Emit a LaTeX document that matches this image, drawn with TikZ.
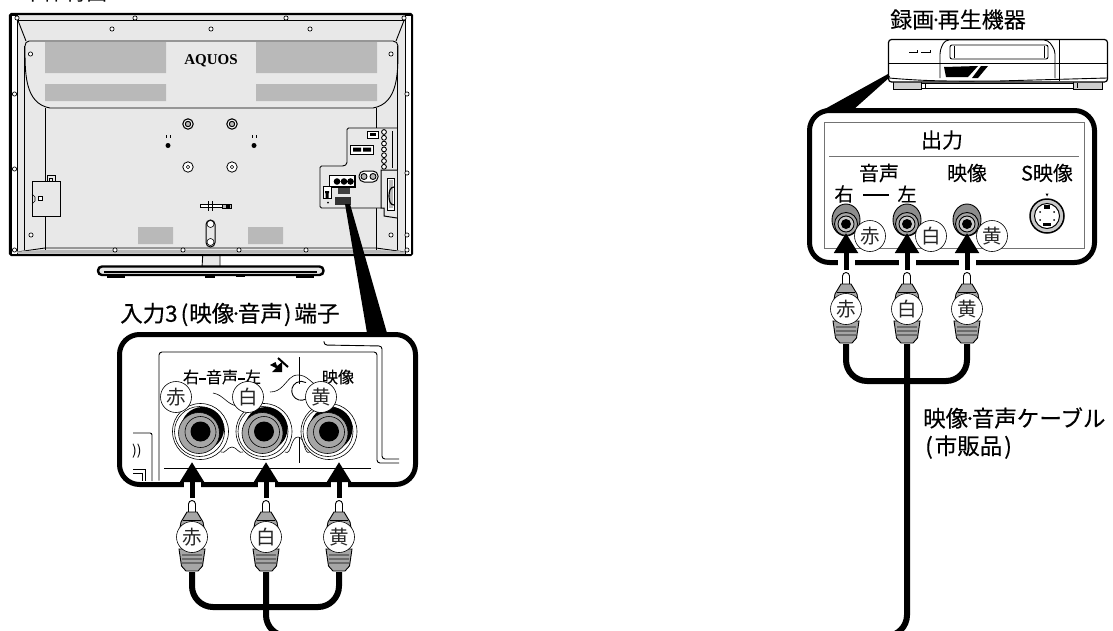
\documentclass[tikz,border=0pt]{standalone}
\usepackage{fontspec}
\setmainfont{Noto Sans CJK JP}
\newfontfamily\jpbold[FakeBold=0.4]{Noto Sans CJK JP}
\newfontfamily\jpmid[FakeBold=0.12]{Noto Sans CJK JP}
\newfontfamily\logofont{Liberation Serif}
\usetikzlibrary{arrows.meta,calc}
\definecolor{tvgray}{HTML}{E8E8E8}
\definecolor{panelgray}{HTML}{B9B9B9}
\definecolor{pluggray}{HTML}{A6A6A6}
\newcommand{\fs}[1]{\fontsize{#1}{#1}\selectfont}
\newcommand{\mdot}{\kern-0.2em·\kern-0.2em}
\tikzset{
  x=1pt,y=-1pt,
  ln/.style={line width=0.9pt,black},
  thin line/.style={line width=0.6pt,black},
  screw/.style={draw=black,fill=white,line width=0.7pt,circle,inner sep=0pt,minimum size=4.2pt},
  block/.style={fill=panelgray,draw=none},
  calloutbox/.style={draw=black,line width=5pt,rounded corners=20pt,fill=white},
  wedge/.style={fill=black,draw=none},
  cable/.style={draw=black,line width=6pt,rounded corners=21pt},
  tagc/.style={circle,draw=black,fill=white,line width=0.6pt,minimum size=31pt,inner sep=0pt,text=black!85,font=\fs{19.5}},
  halo/.style={draw=white,line width=17pt},
  insert/.style={draw=black,line width=5pt,-{Triangle[width=23pt,length=20pt]}},
  portlabel/.style={inner sep=0pt,font=\jpmid\fs{16}},
  caption bold/.style={inner sep=0pt,anchor=west,font=\jpbold\fs{22.5}},
  plain label/.style={inner sep=0pt,font=\jpmid\fs{20}},
}
% #1 name, #2 x, #3 y of tip, #4 tag text
\newcommand{\rcaplug}[4]{
  \begin{scope}[shift={(#2,#3)}]
    \coordinate (#1top) at (0,0);
    \coordinate (#1end) at (0,71);
    \draw[ln,fill=white] (-3.5,12) -- (-3.5,3) arc[start angle=180,end angle=360,radius=3.5] -- (3.5,12);
    \draw[ln,fill=pluggray] (-5,11) -- (5,11) -- (11,21) -- (13,32) -- (-13,32) -- (-11,21) -- cycle;
    \draw[thin line] (-9,19) -- (9,19);
    \draw[ln,fill=pluggray] (-13,48) -- (-10.5,65) -- (-6,70) -- (6,70) -- (10.5,65) -- (13,48) -- cycle;
    \foreach \yy in {54,58,62} \draw[thin line] (-10,\yy) -- (10,\yy+0.01);
    \node[tagc] (#1) at (0,36) {#4};
  \end{scope}
}
% big jack of left callout
\newcommand{\bigjack}[3]{
  \begin{scope}[shift={(#2,#3)}]
    \draw[thin line,fill=white] (0,0) circle[radius=28];
    \draw[thin line] (-1,0) circle[radius=25];
    \fill[black] (2,-3) circle[radius=21.5];
    \draw[thin line,fill=pluggray] (-1.5,1.5) circle[radius=20.5];
    \draw[thin line] (0,0.5) circle[radius=15.5];
    \node[circle,fill=black,minimum size=20pt,inner sep=0pt] (#1) at (0,0) {};
  \end{scope}
}
% small jack of right callout
\newcommand{\smalljack}[3]{
  \begin{scope}[shift={(#2,#3)}]
    \draw[ln,fill=pluggray!85!black] (0,-2) ellipse[x radius=14,y radius=16];
    \draw[ln,fill=pluggray] (0,2) circle[radius=11.5];
    \draw[ln,fill=pluggray!60] (0,2) circle[radius=8];
    \node[circle,fill=black,minimum size=10pt,inner sep=0pt] (#1) at (0,2) {};
  \end{scope}
}
\begin{document}
\begin{tikzpicture}
\useasboundingbox (0,0) rectangle (1113,630);
\clip (0,0) rectangle (1113,630);

% --- title cut by the page edge
\node[inner sep=0pt,font=\fs{21.5}] (title) at (65,-7.5) {本体背面};

% --- TV stand
\draw[ln,fill=tvgray] (203,250) -- (202,268) -- (220,268) -- (220,250);
\draw[line width=2.4pt,fill=tvgray,rounded corners=4pt] (98,266.5) rectangle (323.5,275);
\draw[line width=1.2pt] (104,272) -- (317,272);
\draw[line width=1.6pt] (107,277) -- (125,277) (205,277) -- (215,277) (236,276) -- (245,276) (296,277) -- (314,277);

% --- TV body
\draw[line width=2.2pt,fill=tvgray,rounded corners=1.5pt] (10,14) rectangle (412,255);
\draw[ln,fill=white] (11,15) rectangle (17,254);
\draw[ln,fill=white] (405,15) rectangle (411,254);
\draw[line width=1pt] (17,20) -- (405,20);
\draw[ln] (17,18) -- (26,41) (405,18) -- (396,41);
\draw[ln,fill=tvgray] (29,41) -- (393,41) to[out=0,in=90] (398,46) to[out=-90,in=10] (373,108) -- (50,108) to[out=170,in=-90] (25,46) to[out=90,in=180] (29,41) -- cycle;
\draw[ln] (24,46) -- (24,250) (397,46) -- (397,250) (45,108) -- (45,250) (376,108) -- (376,250);
\draw[ln] (17,252) -- (45,248) -- (376,248) -- (405,252);
\fill[panelgray] (17,251.5) -- (45,250) -- (376,250) -- (405,251.5) -- (405,253) -- (17,253) -- cycle;
\fill[block] (45,42) rectangle (166,73) (256,42) rectangle (377,73) (45,84) rectangle (166,101) (256,84) rectangle (377,101) (138,227) rectangle (173,244) (248,227) rectangle (283,244);
\node[inner sep=0pt,font=\logofont\bfseries\fs{15}] (logo) at (211,60.5) {AQUOS};
\foreach \sx/\sy in {17/18,135/18,286/18,404/18,112/29,211/29,310/29,30.5/54,391/54,14.5/94,14.5/169,407/94,407/173,407/235,407/250,31/235,391/235,14.5/250,115/250,183/250,239/250,306/250}
  \node[screw] at (\sx,\sy) {};
\foreach \sx in {188,232} {
  \draw[line width=1.1pt,fill=white] (\sx,124) circle[radius=5.2];
  \draw[line width=1pt,fill=panelgray] (\sx,124) circle[radius=2.7];
  \draw[line width=0.8pt,fill=white] (\sx,167) circle[radius=5.2];
  \draw[thin line] (\sx,167) circle[radius=1.7];
}
\foreach \sx in {168,254} {
  \fill[black] (\sx,145.5) circle[radius=2.5];
  \draw[thin line] (\sx-2,135) -- (\sx-2,138) (\sx+2,135) -- (\sx+2,138);
}
% left box
\draw[ln] (47,181) -- (47,175) -- (55,175) -- (55,181) (49.5,181) -- (49.5,178) -- (52.5,178) -- (52.5,181);
\draw[ln,fill=tvgray] (32,181.5) rectangle (60,216);
\draw[thin line] (32,194) -- (35,197) -- (35,201) -- (32,204);
\draw[thin line,fill=white] (38,196.5) rectangle (42,200.5);
% bracket and slot
\draw[ln,fill=white] (200,204.5) rectangle (222,207.5);
\draw[ln,fill=panelgray] (222,204) rectangle (231,208.5);
\fill[black] (226,203.5) rectangle (230,209);
\draw[thin line] (208,201) -- (208,211) (212,201) -- (212,211);
\draw[line width=1pt,fill=tvgray,rounded corners=4.5pt] (206,220) rectangle (215,247);
\draw[thin line,fill=white] (210.5,224) circle[radius=3.5];
\draw[thin line,fill=white] (210.5,242) circle[radius=3.5];
% terminal panel
\draw[ln,fill=tvgray,rounded corners=1.5pt] (397,128) -- (347,128) -- (347,164) -- (344,166) -- (320,166) -- (320,208) -- (381,208);
\draw[line width=1pt,fill=white] (367,131) rectangle (378,138);
\fill[black] (370,133) rectangle (375.5,136);
\draw[line width=1pt,fill=white] (350,145) rectangle (373,154);
\fill[black] (353,147.5) rectangle (361,151.5) (363,147.5) rectangle (371,151.5);
\foreach \k in {0,...,6} \draw[line width=0.9pt,fill=white] (384,132+\k*5.8) circle[radius=2.4];
\fill[black] (391.5,131) rectangle (393,168);
\draw[line width=1pt,fill=white,rounded corners=5pt] (359,171) rectangle (378,182);
\draw[ln,fill=panelgray] (364,176.5) circle[radius=3];
\draw[ln,fill=panelgray] (373,176.5) circle[radius=3];
\draw[line width=1.8pt,fill=white] (329.5,175.5) rectangle (355,187);
\fill[black] (337,181.5) circle[radius=3.3] (344,181.5) circle[radius=3.3] (350.5,181.5) circle[radius=3.3];
\fill[black!75] (338,188) rectangle (350,194);
\fill[black!80] (335,196.5) rectangle (351,204.5);
\draw[ln,fill=white] (323,186.5) rectangle (331,198);
\fill[black] (325,191) rectangle (329,193) (325.5,193) rectangle (328.5,198);
\fill[black] (328,202.5) circle[radius=1];
% side door
\draw[line width=1pt,fill=tvgray] (397,170) -- (381,170) -- (381,208) -- (384,208) -- (384,216) -- (397,218);
\draw[line width=1pt,fill=white] (387.5,178) rectangle (394.5,210);
\fill[panelgray] (389,180) rectangle (393,208);
\draw[line width=1.2pt] (394,187) to[out=180,in=90] (389,196) to[out=-90,in=180] (394,205);

% --- pointer to left callout
\fill[wedge] (345,204) -- (350,204) -- (387,333) -- (367,333) -- cycle;

% --- left callout
\node[inner sep=0pt,anchor=west,font=\jpbold\fs{22.5}] (leftcap) at (120,314.5) {入力3\kern3pt(\kern1pt映像\mdot 音声\kern1pt)\kern3pt端子};
\draw[calloutbox] (119.5,334.5) rectangle (415.5,484.5);
\draw[ln,rounded corners=3pt] (159,480.5) -- (159,352) -- (377,352) -- (377,463) -- (399,463);
\draw[ln,rounded corners=3pt] (324,341) -- (324,345) -- (382,346) -- (382,459) -- (399,459);
\draw[line width=1pt] (299,357) -- (299,384) (299,437) -- (299,463);
\draw[ln,rounded corners=2pt] (133,433) -- (152,433) -- (152,481);
\draw[ln] (133,469.5) -- (145,469.5) -- (145,481) (133,473) -- (142,473) -- (142,481);
\node[inner sep=0pt,font=\fs{14},anchor=west] (rings) at (132,451) {))};
% plate
\draw[thin line] (213,393) to[out=-10,in=170] (237,406);
\draw[thin line] (270,392) to[out=0,in=225] (283,386) to[out=45,in=180] (298,375) to[out=0,in=160] (320,387);
\draw[thin line] (221,452) to[out=-30,in=180] (232,447) to[out=0,in=210] (243,452);
\draw[thin line] (285,452) to[out=-30,in=180] (298,437) to[out=0,in=210] (310,452);
\draw[ln] (306,399) arc[start angle=60,end angle=300,radius=9.5];
\bigjack{jackA}{200.5}{431.5}
\bigjack{jackB}{264}{431.5}
\bigjack{jackC}{329}{431.5}
\node[portlabel] (lblLR) at (222,377) {右\raisebox{3.5pt}{\rule{7pt}{2pt}}音声\raisebox{3.5pt}{\rule{7pt}{2pt}}左};
\node[portlabel] (lblV) at (338,377) {映像};
% push-in mark
\fill[black] (270,365) -- (275.5,362) -- (277,366) -- (282,362) -- (282,372) -- (272,372) -- (276,368) -- cycle;
\draw[line width=2pt] (278,358) -- (288,367);
\node[tagc] (tagA) at (176,397) {赤};
\node[tagc] (tagB) at (248,397) {白};
\node[tagc] (tagC) at (321,397) {黄};
\draw[line width=1.4pt] (164,468.5) -- (371,468.5);

\rcaplug{plugA}{192}{501}{赤}
\rcaplug{plugB}{266}{501}{白}
\rcaplug{plugC}{339}{501}{黄}
\coordinate (tipA) at (192,462); \coordinate (tipB) at (266,462); \coordinate (tipC) at (339,462);
\foreach \p in {A,B,C} {
  \draw[halo] ($(tip\p)+(0,19)$) -- ($(tip\p)+(0,36)$);
  \draw[insert] ($(plug\p top)+(0,-3.5)$) -- (tip\p);
}

% --- VCR
\node[plain label,font=\jpmid\fs{22}] (vcrcap) at (958,19.5) {録画\mdot 再生機器};
\draw[ln,fill=panelgray!70] (893,80) rectangle (921,89.5);
\draw[ln,fill=panelgray!70] (1073,80) rectangle (1102,89.5);
\draw[ln,fill=white] (921,83) rectangle (1073,88.5);
\draw[ln] (925,83) -- (925,88) (1077,83) -- (1077,88);
\draw[line width=1.2pt,fill=white,rounded corners=3pt] (888.5,39.5) rectangle (1107.5,82);
\draw[ln] (889,63) -- (1107,63) (1059,40) -- (1059,81);
\draw[ln] (889,78) to[out=-5,in=180] (998,81) -- (1107,78);
\draw[ln,rounded corners=4pt,fill=white] (940,78) -- (940,50) -- (945,40) -- (1048,40) -- (1055,50) -- (1055,78);
\draw[ln,fill=white] (940,63) -- (1055,63);
\draw[ln,rounded corners=2pt] (950,45) rectangle (1048,59);
\draw[thin line] (954,46) -- (954,58) (1044,46) -- (1044,58);
\draw[ln] (909,52) -- (917,52) -- (917,50) (921,52) -- (930,52) -- (930,50);
\fill[black] (944,67) -- (978,66) -- (968,77) -- (946,77) -- cycle;
\fill[black] (981,66) -- (988,66) -- (978,78) -- (972,78) -- cycle;
\fill[wedge] (888,74) -- (890,77) -- (853,110) -- (823,110) -- cycle;

% --- right callout
\draw[calloutbox] (809.5,110.5) rectangle (1094.5,262.5);
\draw[line width=1pt,draw=black!55] (824,122.5) rectangle (1084,248);
\draw[line width=1pt,draw=black!55] (829,156) -- (1079,156);
\node[plain label,font=\jpmid\fs{21}] (lblOut) at (942,140) {出力};
\node[plain label] (lblAud) at (879,173) {音声};
\node[plain label] (lblVid) at (967,173) {映像};
\node[plain label] (lblS) at (1047,173) {S映像};
\node[plain label,font=\jpmid\fs{19}] (lblR) at (844,194) {右};
\draw[line width=1.5pt] (863,195) -- (889,195);
\node[plain label,font=\jpmid\fs{19}] (lblL) at (907,194) {左};
\smalljack{jackR}{846}{222}
\smalljack{jackL}{907}{222}
\smalljack{jackV}{967}{222}
% S jack
\fill[black] (1045.5,193.5) -- (1048.5,193.5) -- (1047,196.5) -- cycle;
\draw[line width=1.5pt,fill=pluggray!60] (1047,216) circle[radius=17];
\draw[line width=1pt,fill=white] (1047,216) circle[radius=12.5];
\fill[black] (1044,205) rectangle (1050,209);
\fill[black] (1043,223) rectangle (1051,226);
\fill[black] (1040,212) circle[radius=1] (1054,212) circle[radius=1] (1040,220) circle[radius=1] (1054,220) circle[radius=1];
\node[tagc] (tagR) at (870,236) {赤};
\node[tagc] (tagL) at (931,236) {白};
\node[tagc] (tagV) at (992,236) {黄};

\rcaplug{plugR}{846}{273}{赤}
\rcaplug{plugW}{907}{273}{白}
\rcaplug{plugY}{967}{273}{黄}
\coordinate (tipR) at (846,233); \coordinate (tipW) at (907,233); \coordinate (tipY) at (967,233);
\foreach \p in {R,W,Y} {
  \draw[halo] ($(tip\p)+(0,20)$) -- ($(tip\p)+(0,37)$);
  \draw[insert] ($(plug\p top)+(0,-3.5)$) -- (tip\p);
}

% --- cables
\draw[cable] (plugAend) -- (192,607) -- (339,607) -- (plugCend);
\draw[cable] (plugRend) -- (846,381) -- (967,381) -- (plugYend);
\coordinate (cableOutL) at (286,636);
\coordinate (cableOutR) at (886,636);
\draw[cable] (plugBend) -- (266,636) -- (cableOutL);
\draw[cable] (plugWend) -- (907,636) -- (cableOutR);
\node[caption bold] (cablecap) at (923,418) {映像\mdot 音声ケーブル};
\node[caption bold] (cablecap2) at (925,447) {(\kern2pt市販品\kern2pt)};
\end{tikzpicture}
\end{document}
